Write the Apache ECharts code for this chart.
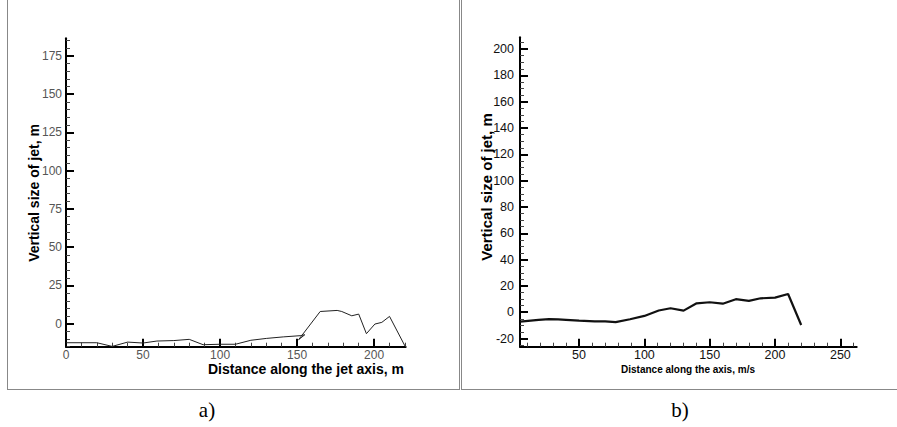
<!DOCTYPE html>
<html>
<head>
<meta charset="utf-8">
<script src="https://cdn.jsdelivr.net/npm/echarts@6/dist/echarts.min.js"></script>
<style>
html,body{margin:0;padding:0;background:#fff;}
#chart{width:897px;height:427px;}
</style>
</head>
<body>
<div id="chart"></div>
<script>
// ---- data (panel a) ----
const aX = [0,20,30,40,50,59,70,80,89,100,110,120,130,141,152,155,151,165,176,179,185.5,190,195,200.5,205,210,220];
const aY = [-12.4,-12.4,-14.8,-12,-12.6,-11.3,-11,-10.2,-13.7,-13.4,-13.4,-10.8,-9.6,-8.6,-7.8,-7.2,-10.4,8,8.7,8,5.2,6.3,-6.5,-0.2,0.9,4.8,-14.5];
// ---- data (panel b) ----
const bX = [5,19,27,34,40,50,62,70,78,89,100,111,120,130,140,150,160,170,180,189,200,210,220];
const bY = [-7.1,-5.8,-5.3,-5.5,-5.8,-6.4,-7,-7,-7.5,-5.3,-2.8,1.3,3,1.2,6.8,7.6,6.5,9.9,8.6,10.6,11.1,13.9,-9.7];
// ---- tick labels ----
const aXTicks = [0,50,100,150,200];
const aYTicks = [0,25,50,75,100,125,150,175];
const bXTicks = [50,100,150,200,250];
const bYTicks = [-20,0,20,40,60,80,100,120,140,160,180,200];
// ---- text ----
const aXTitle = 'Distance along the jet axis, m';
const aYTitle = 'Vertical size of jet, m';
const bXTitle = 'Distance along the axis, m/s';
const bYTitle = 'Vertical size of jet, m';
const aLabel = 'a)';
const bLabel = 'b)';

function range(a, b, step){ const r=[]; for(let v=a; v<=b+1e-9; v+=step) r.push(v); return r; }
function pairs(xs, ys){ return xs.map((x,i)=>[x, ys[i]]); }

const aXMinor = range(0,220,10);
const aYMinor = range(-15,185,5);
const bXMinor = range(10,260,10);
const bYMinor = range(-25,205,5);

const chart = echarts.init(document.getElementById('chart'), null, {renderer:'svg'});

function minorAxis(gridIndex, position, min, max, vals, color){
  return {
    type:'value', gridIndex, position, min, max,
    axisLine:{show:false, onZero:false},
    axisTick:{show:true, inside:true, length:4, customValues: vals, lineStyle:{color:color, width:1}},
    axisLabel:{show:false},
    splitLine:{show:false}
  };
}
function majorAxis(gridIndex, position, min, max, vals, lab){
  return {
    type:'value', gridIndex, position, min, max,
    axisLine:{show:true, onZero:false, lineStyle:{color:'#000', width:2}},
    axisTick:{show:true, inside:true, length:8, customValues: vals, lineStyle:{color:'#000', width:2}},
    axisLabel:Object.assign({show:true, customValues: vals}, lab),
    splitLine:{show:false}
  };
}

const aLabX = {fontFamily:'Liberation Sans, Arial, sans-serif', fontSize:12, color:'#555', margin:2};
const aLabY = {fontFamily:'Liberation Sans, Arial, sans-serif', fontSize:12, color:'#555', margin:4};
const bLabX = {fontFamily:'Liberation Sans, Arial, sans-serif', fontSize:12.5, color:'#111', margin:2};
const bLabY = {fontFamily:'Liberation Sans, Arial, sans-serif', fontSize:12.5, color:'#111', margin:6};

const option = {
  animation:false,
  backgroundColor:'#fff',
  grid:[
    {left:66, top:38.3, width:339.7, height:308.4},
    {left:520, top:37.3, width:336.7, height:309.4}
  ],
  xAxis:[
    minorAxis(0, 'bottom', 0, 220.5, aXMinor, '#444'),
    majorAxis(0, 'bottom', 0, 220.5, aXTicks, aLabX),
    minorAxis(1, 'bottom', 4.8, 262.5, bXMinor, '#444'),
    majorAxis(1, 'bottom', 4.8, 262.5, bXTicks, bLabX)
  ],
  yAxis:[
    minorAxis(0, 'left', -15, 186.5, aYMinor, '#444'),
    majorAxis(0, 'left', -15, 186.5, aYTicks, aLabY),
    minorAxis(1, 'left', -26.2, 209, bYMinor, '#444'),
    majorAxis(1, 'left', -26.2, 209, bYTicks, bLabY)
  ],
  series:[
    {type:'line', xAxisIndex:1, yAxisIndex:1, data:pairs(aX,aY), showSymbol:false, symbol:'none',
     lineStyle:{color:'#222', width:1}, clip:false, z:3},
    {type:'line', xAxisIndex:3, yAxisIndex:3, data:pairs(bX,bY), showSymbol:false, symbol:'none',
     lineStyle:{color:'#111', width:2.2}, clip:false, z:3}
  ],
  graphic:[
    // frames
    {type:'line', shape:{x1:7.5,y1:0,x2:7.5,y2:389.5}, style:{stroke:'#888', lineWidth:1}},
    {type:'line', shape:{x1:7,y1:389.5,x2:460,y2:389.5}, style:{stroke:'#888', lineWidth:1}},
    {type:'line', shape:{x1:459.5,y1:0,x2:459.5,y2:389.5}, style:{stroke:'#888', lineWidth:1}},
    {type:'line', shape:{x1:461.5,y1:0,x2:461.5,y2:389.5}, style:{stroke:'#888', lineWidth:1}},
    {type:'line', shape:{x1:461,y1:389.5,x2:897,y2:389.5}, style:{stroke:'#888', lineWidth:1}},
    // axis titles
    {type:'text', x:404, y:369, style:{text:aXTitle, fontFamily:'Liberation Sans Narrow, Arial Narrow, sans-serif', fontWeight:'bold', fontSize:14, fill:'#000', align:'right', verticalAlign:'middle'}},
    {type:'text', x:34, y:193, rotation:Math.PI/2, style:{text:aYTitle, fontFamily:'Liberation Sans Narrow, Arial Narrow, sans-serif', fontWeight:'bold', fontSize:14, fill:'#000', align:'center', verticalAlign:'middle'}},
    {type:'text', x:688, y:369, style:{text:bXTitle, fontFamily:'Liberation Sans, Arial, sans-serif', fontWeight:'bold', fontSize:10, fill:'#000', align:'center', verticalAlign:'middle'}},
    {type:'text', x:486, y:187, rotation:Math.PI/2, style:{text:bYTitle, fontFamily:'Liberation Sans, Arial, sans-serif', fontWeight:'bold', fontSize:15, fill:'#000', align:'center', verticalAlign:'middle'}},
    // panel labels
    {type:'text', x:207, y:410, style:{text:aLabel, fontFamily:'Liberation Serif, Times New Roman, serif', fontSize:21, fill:'#000', align:'center', verticalAlign:'middle'}},
    {type:'text', x:680, y:410, style:{text:bLabel, fontFamily:'Liberation Serif, Times New Roman, serif', fontSize:21, fill:'#000', align:'center', verticalAlign:'middle'}}
  ]
};
chart.setOption(option);
</script>
</body>
</html>
